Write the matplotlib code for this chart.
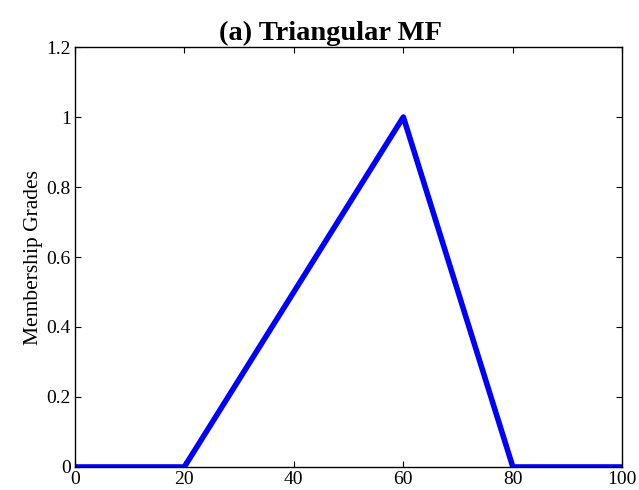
import matplotlib
matplotlib.use("Agg")
from matplotlib import pyplot as plt

# triangular membership function vertices
x_pts = [0, 20, 60, 80, 100]
mf = [0, 0, 1, 0, 0]

xticks = [0, 20, 40, 60, 80, 100]
yticks = [0, 0.2, 0.4, 0.6, 0.8, 1, 1.2]

plt.rcParams['font.family'] = ['Liberation Serif', 'DejaVu Serif']

fig = plt.figure(figsize=(6.39, 4.9), dpi=100)
ax = fig.add_axes([0.117, 0.047, 0.857, 0.857])

ax.plot(x_pts, mf, color='#0000ff', linewidth=4.0, solid_joinstyle='round')

ax.set_xlim(0, 100)
ax.set_ylim(0, 1.2)
ax.set_xticks(xticks)
ax.set_yticks(yticks)
ax.set_yticklabels(['0', '0.2', '0.4', '0.6', '0.8', '1', '1.2'])
ax.tick_params(direction='in', top=True, right=True, length=4, width=0.8,
               labelsize=14, colors='black', pad=3)
for s in ax.spines.values():
    s.set_linewidth(1.0)

ax.set_title('(a) Triangular MF', fontsize=20.5, fontweight='bold', pad=5, x=0.467)
ax.set_ylabel('Membership Grades', fontsize=15.5, labelpad=2)

fig.savefig('out.png', dpi=100)
